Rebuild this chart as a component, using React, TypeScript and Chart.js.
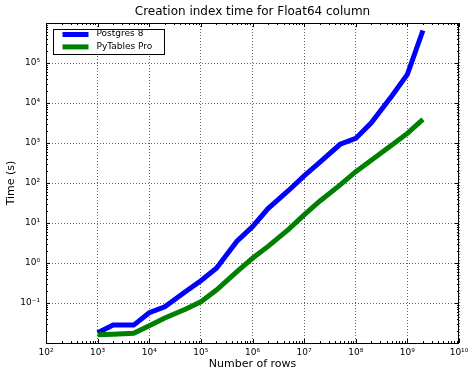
import React, { useEffect, useRef } from "react";
import { Chart, registerables } from "chart.js";

Chart.register(...registerables);

const rows = [1e3, 2e3, 5e3, 1e4, 2e4, 5e4, 1e5, 2e5, 5e5, 1e6, 2e6, 5e6, 1e7, 2e7, 5e7, 1e8, 2e8, 5e8, 1e9, 2e9];
const postgres = [0.018, 0.028, 0.028, 0.057, 0.08, 0.19, 0.36, 0.74, 3.5, 8.1, 23, 65, 150, 330, 930, 1300, 3200, 15000, 52000, 650000];
const pytables = [0.016, 0.0165, 0.0175, 0.027, 0.042, 0.07, 0.107, 0.21, 0.61, 1.31, 2.6, 6.9, 16, 35, 90, 192, 370, 890, 1740, 3900];
const seriesNames = ["Postgres 8", "PyTables Pro"];
const seriesColors = ["#0000ff", "#008000"];
const xTicks = [1e2, 1e3, 1e4, 1e5, 1e6, 1e7, 1e8, 1e9, 1e10];
const yTicks = [1e-1, 1e0, 1e1, 1e2, 1e3, 1e4, 1e5];
const xRange = [1e2, 1e10];
const yRange = [1e-2, 1e6];
const titleText = "Creation index time for Float64 column";
const xTitle = "Number of rows";
const yTitle = "Time (s)";

const FONT = "'DejaVu Sans', sans-serif";
const SUP: Record<string, string> = {
  "0": "⁰", "1": "¹", "2": "²", "3": "³", "4": "⁴",
  "5": "⁵", "6": "⁶", "7": "⁷", "8": "⁸", "9": "⁹", "-": "⁻",
};
function pow10Label(v: number): string {
  const e = Math.round(Math.log10(v));
  return "10" + String(e).split("").map((c) => SUP[c] || c).join("");
}

const framePlugin = {
  id: "mplFrame",
  afterDraw(chart: any) {
    const { ctx, chartArea, scales } = chart;
    const { left, right, top, bottom } = chartArea;
    ctx.save();
    ctx.strokeStyle = "#000";
    ctx.lineWidth = 1;
    ctx.setLineDash([]);
    const xs = scales.x;
    const ys = scales.y;
    ctx.beginPath();
    const lx0 = Math.round(Math.log10(xRange[0]));
    const lx1 = Math.round(Math.log10(xRange[1]));
    for (let e = lx0; e <= lx1; e++) {
      for (let m = 1; m <= 9; m++) {
        const v = m * Math.pow(10, e);
        if (v > xRange[1] * 1.0001) break;
        const p = Math.round(xs.getPixelForValue(v)) + 0.5;
        const len = m === 1 ? 4 : 2;
        ctx.moveTo(p, bottom);
        ctx.lineTo(p, bottom - len);
        ctx.moveTo(p, top);
        ctx.lineTo(p, top + len);
      }
    }
    const ly0 = Math.round(Math.log10(yRange[0]));
    const ly1 = Math.round(Math.log10(yRange[1]));
    for (let e = ly0; e <= ly1; e++) {
      for (let m = 1; m <= 9; m++) {
        const v = m * Math.pow(10, e);
        if (v > yRange[1] * 1.0001) break;
        const p = Math.round(ys.getPixelForValue(v)) + 0.5;
        const len = m === 1 ? 4 : 2;
        ctx.moveTo(left, p);
        ctx.lineTo(left + len, p);
        ctx.moveTo(right, p);
        ctx.lineTo(right - len, p);
      }
    }
    ctx.stroke();
    ctx.strokeRect(Math.round(left) + 0.5, Math.round(top) + 0.5, Math.round(right - left) - 1, Math.round(bottom - top));

    // legend
    const bx = Math.round(left + 7) + 0.5;
    const by = Math.round(top + 6) + 0.5;
    const bw = 111;
    const bh = 25;
    ctx.fillStyle = "#fff";
    ctx.fillRect(bx, by, bw, bh);
    ctx.strokeStyle = "#000";
    ctx.lineWidth = 1;
    ctx.strokeRect(bx, by, bw, bh);
    const datasets = chart.data.datasets;
    ctx.font = "9px " + FONT;
    ctx.textBaseline = "middle";
    ctx.textAlign = "left";
    datasets.forEach((ds: any, i: number) => {
      const y = by + 5 + i * 12.4;
      ctx.strokeStyle = ds.borderColor;
      ctx.lineWidth = 5;
      ctx.beginPath();
      ctx.moveTo(bx + 9, y);
      ctx.lineTo(bx + 35, y);
      ctx.stroke();
      ctx.fillStyle = "#000";
      ctx.fillText(ds.label, bx + 43, y - 0.5);
    });
    ctx.restore();
  },
};

export default function App() {
  const ref = useRef<HTMLCanvasElement | null>(null);
  useEffect(() => {
    if (!ref.current) return;
    Chart.defaults.font.family = FONT;
    const chart = new Chart(ref.current, {
      type: "line",
      data: {
        datasets: [
          {
            label: seriesNames[0],
            data: rows.map((r, i) => ({ x: r, y: postgres[i] })),
            borderColor: seriesColors[0],
            backgroundColor: seriesColors[0],
            borderWidth: 5,
            pointRadius: 0,
            tension: 0,
            fill: false,
            order: 2,
          },
          {
            label: seriesNames[1],
            data: rows.map((r, i) => ({ x: r, y: pytables[i] })),
            borderColor: seriesColors[1],
            backgroundColor: seriesColors[1],
            borderWidth: 5,
            pointRadius: 0,
            tension: 0,
            fill: false,
            order: 1,
          },
        ],
      },
      options: {
        responsive: false,
        animation: false,
        devicePixelRatio: 1,
        layout: { padding: { left: 0, right: 9, top: 0, bottom: 0 } },
        plugins: {
          legend: { display: false },
          tooltip: { enabled: false },
          title: {
            display: true,
            fullSize: false,
            text: titleText,
            color: "#000",
            font: { family: FONT, size: 12, weight: "normal" },
            padding: { top: 4.5, bottom: 4.1 },
          },
        },
        scales: {
          x: {
            type: "logarithmic",
            min: xRange[0],
            max: xRange[1],
            afterBuildTicks: (s: any) => {
              s.ticks = xTicks.map((v) => ({ value: v }));
            },
            afterFit: (s: any) => {
              s.height = 30;
              s.paddingLeft = 0;
              s.paddingRight = 0;
            },
            ticks: {
              callback: (v: any) => pow10Label(Number(v)),
              color: "#000",
              font: { family: FONT, size: 9 },
              padding: 4,
              maxRotation: 0,
              autoSkip: false,
            },
            grid: { color: "rgba(0,0,0,0.6)", lineWidth: 1, drawTicks: false },
            border: { display: false, dash: [1, 2] },
            title: {
              display: true,
              text: xTitle,
              color: "#000",
              font: { family: FONT, size: 11 },
              padding: { top: 0, bottom: 2 },
            },
          },
          y: {
            type: "logarithmic",
            min: yRange[0],
            max: yRange[1],
            afterBuildTicks: (s: any) => {
              s.ticks = yTicks.map((v) => ({ value: v }));
            },
            afterFit: (s: any) => {
              s.width = 46;
              s.paddingTop = 0;
              s.paddingBottom = 0;
            },
            ticks: {
              callback: (v: any) => pow10Label(Number(v)),
              color: "#000",
              font: { family: FONT, size: 9 },
              padding: 6,
              autoSkip: false,
            },
            grid: { color: "rgba(0,0,0,0.6)", lineWidth: 1, drawTicks: false },
            border: { display: false, dash: [1, 2] },
            title: {
              display: true,
              text: yTitle,
              color: "#000",
              font: { family: FONT, size: 11 },
              padding: { top: 5, bottom: 0 },
            },
          },
        },
      },
      plugins: [framePlugin],
    } as any);
    return () => chart.destroy();
  }, []);
  return (
    <div style={{ position: "absolute", left: 0, top: 0, width: 468, height: 373, background: "#fff" }}>
      <canvas ref={ref} width={468} height={373} style={{ display: "block" }} />
    </div>
  );
}
